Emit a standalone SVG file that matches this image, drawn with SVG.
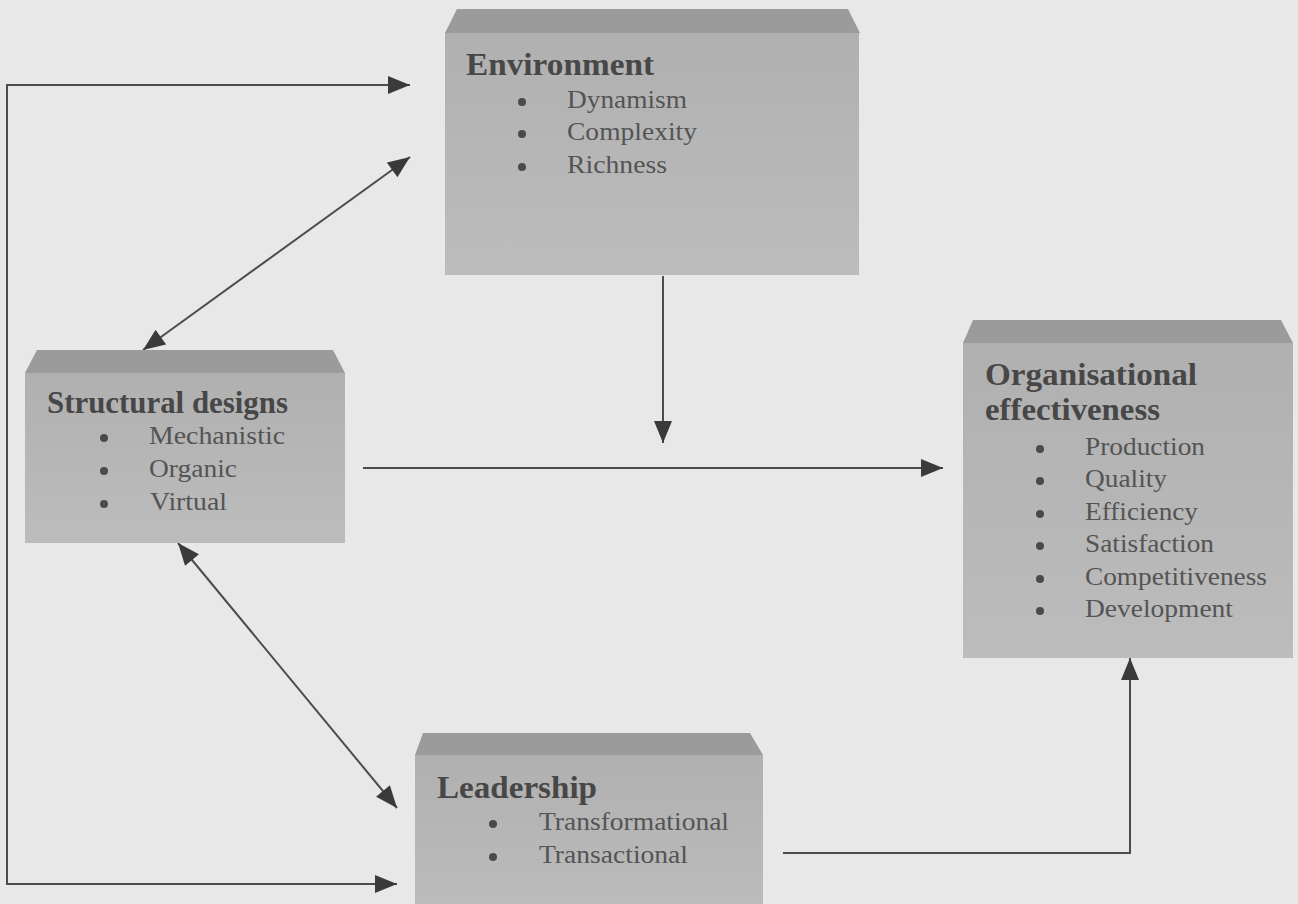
<svg xmlns="http://www.w3.org/2000/svg" width="1298" height="904" viewBox="0 0 1298 904">
<defs>
<linearGradient id="face" x1="0" y1="0" x2="0" y2="1">
<stop offset="0" stop-color="#b0b0b0"/>
<stop offset="1" stop-color="#bcbcbc"/>
</linearGradient>
<marker id="ah" viewBox="0 0 22 18" refX="22" refY="9" markerWidth="23" markerHeight="18" markerUnits="userSpaceOnUse" orient="auto-start-reverse">
<path d="M0,0 L22,9 L0,18 z" fill="#3a3a3a"/>
</marker>
</defs>
<style>
.bevel{fill:#9b9b9b}
.face{fill:url(#face)}
.t{font-family:"Liberation Serif","Times New Roman",serif;font-weight:bold;font-size:31px;fill:#474747}
.i{font-family:"Liberation Serif","Times New Roman",serif;font-size:26px;fill:#545454}
.b{fill:#4a4a4a}
.c{fill:none;stroke:#4c4c4c;stroke-width:2}
</style>
<rect width="1298" height="904" fill="#e8e8e8"/>
<g id="connectors">
<polyline class="c" points="410,85 7,85 7,884 397,884" marker-start="url(#ah)" marker-end="url(#ah)"/>
<line class="c" x1="410" y1="157" x2="143" y2="350" marker-start="url(#ah)" marker-end="url(#ah)"/>
<line class="c" x1="663" y1="276" x2="663" y2="443" marker-end="url(#ah)"/>
<line class="c" x1="363" y1="468" x2="943" y2="468" marker-end="url(#ah)"/>
<line class="c" x1="178" y1="543" x2="397" y2="808" marker-start="url(#ah)" marker-end="url(#ah)"/>
<polyline class="c" points="783,853 1130,853 1130,658" marker-end="url(#ah)"/>
</g>
<g id="environment">
<polygon class="bevel" points="457,9 848,9 860,33 445,33"/>
<rect class="face" x="445" y="33" width="414" height="242"/>
<text class="t" x="466" y="75" textLength="188" lengthAdjust="spacingAndGlyphs">Environment</text>
<circle class="b" cx="522" cy="102" r="4"/><circle class="b" cx="522" cy="134" r="4"/><circle class="b" cx="522" cy="167" r="4"/>
<text class="i" x="567" y="108" textLength="120" lengthAdjust="spacingAndGlyphs">Dynamism</text>
<text class="i" x="567" y="140" textLength="130" lengthAdjust="spacingAndGlyphs">Complexity</text>
<text class="i" x="567" y="173" textLength="100" lengthAdjust="spacingAndGlyphs">Richness</text>
</g>
<g id="structural">
<polygon class="bevel" points="37,350 333,350 345,373 25,373"/>
<rect class="face" x="25" y="373" width="320" height="170"/>
<text class="t" x="47" y="413" textLength="241" lengthAdjust="spacingAndGlyphs">Structural designs</text>
<circle class="b" cx="104" cy="438" r="4"/><circle class="b" cx="104" cy="471" r="4"/><circle class="b" cx="104" cy="504" r="4"/>
<text class="i" x="149" y="444" textLength="136" lengthAdjust="spacingAndGlyphs">Mechanistic</text>
<text class="i" x="149" y="477" textLength="88" lengthAdjust="spacingAndGlyphs">Organic</text>
<text class="i" x="150" y="510" textLength="77" lengthAdjust="spacingAndGlyphs">Virtual</text>
</g>
<g id="effectiveness">
<polygon class="bevel" points="973,320 1281,320 1293,343 963,343"/>
<rect class="face" x="963" y="343" width="330" height="315"/>
<text class="t" x="985" y="385" textLength="212" lengthAdjust="spacingAndGlyphs">Organisational</text>
<text class="t" x="985" y="420" textLength="175" lengthAdjust="spacingAndGlyphs">effectiveness</text>
<circle class="b" cx="1040" cy="449" r="4"/><circle class="b" cx="1040" cy="481" r="4"/><circle class="b" cx="1040" cy="514" r="4"/>
<circle class="b" cx="1040" cy="546" r="4"/><circle class="b" cx="1040" cy="579" r="4"/><circle class="b" cx="1040" cy="611" r="4"/>
<text class="i" x="1085" y="455" textLength="120" lengthAdjust="spacingAndGlyphs">Production</text>
<text class="i" x="1085" y="487" textLength="82" lengthAdjust="spacingAndGlyphs">Quality</text>
<text class="i" x="1085" y="520" textLength="113" lengthAdjust="spacingAndGlyphs">Efficiency</text>
<text class="i" x="1085" y="552" textLength="129" lengthAdjust="spacingAndGlyphs">Satisfaction</text>
<text class="i" x="1085" y="585" textLength="182" lengthAdjust="spacingAndGlyphs">Competitiveness</text>
<text class="i" x="1085" y="617" textLength="148" lengthAdjust="spacingAndGlyphs">Development</text>
</g>
<g id="leadership">
<polygon class="bevel" points="423,733 750,733 763,755 415,755"/>
<rect class="face" x="415" y="755" width="348" height="160"/>
<text class="t" x="437" y="798" textLength="160" lengthAdjust="spacingAndGlyphs">Leadership</text>
<circle class="b" cx="493" cy="824" r="4"/><circle class="b" cx="493" cy="857" r="4"/>
<text class="i" x="539" y="830" textLength="190" lengthAdjust="spacingAndGlyphs">Transformational</text>
<text class="i" x="539" y="863" textLength="149" lengthAdjust="spacingAndGlyphs">Transactional</text>
</g>
</svg>
